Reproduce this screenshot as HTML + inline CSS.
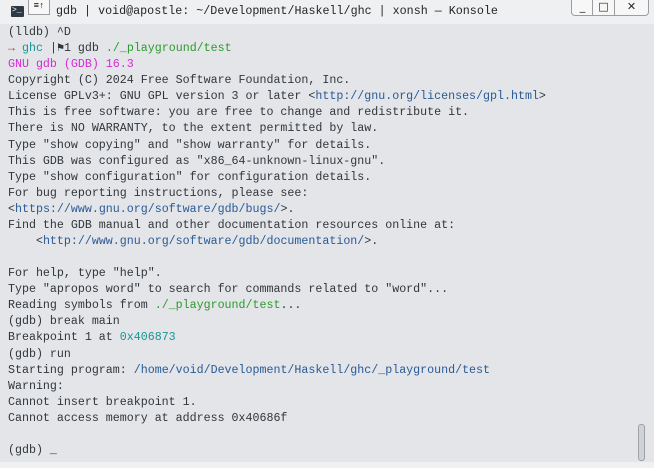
<!DOCTYPE html>
<html><head><meta charset="utf-8"><style>
body{margin:0;width:654px;height:468px;overflow:hidden;background:#eff0f1;position:relative;font-family:"Liberation Mono",monospace}
#title{position:absolute;left:0;top:0;width:654px;height:24px;background:#eff0f1}
#term{position:absolute;left:0;top:24px;width:654px;height:438px;background:#e3e5e8}
pre{position:absolute;left:8px;top:25px;margin:0;font-size:11.65px;line-height:16.08px;color:#31363b;font-family:"Liberation Mono",monospace}
.m{color:#d62ad6}.t{color:#1a9494}.g{color:#2e9a2e}.b{color:#2a5a96}.r{color:#e02020}
.ttl{position:absolute;left:56px;top:4px;font-size:11.7px;color:#232629;white-space:pre}
.btn{position:absolute;top:0;height:15px;border:1px solid #9a9ea3;border-top:none;background:#f7f7f7;font-size:11px;text-align:center;line-height:14px;color:#232629;font-family:"DejaVu Sans",sans-serif}
</style></head><body>
<div id="title">
<div style="position:absolute;left:11px;top:6px;width:13px;height:11px;background:#2d3a46;border-radius:1px"></div>
<div style="position:absolute;left:12px;top:6px;color:#fff;font-size:8px;line-height:10px">&gt;_</div>
<div style="position:absolute;left:28px;top:0;width:20px;height:14px;border:1px solid #9a9ea3;border-top:none;background:#f7f7f7;font-size:9px;text-align:center;line-height:12px">≡↑</div>
<div class="ttl">gdb | void@apostle: ~/Development/Haskell/ghc | xonsh — Konsole</div>
<div class="btn" style="left:571px;width:21px;border-radius:0 0 0 4px">_</div>
<div class="btn" style="left:592px;width:21px">□</div>
<div class="btn" style="left:614px;width:33px;border-radius:0 0 4px 0">✕</div>
</div>
<div id="term"></div>
<div style="position:absolute;left:638px;top:424px;width:5px;height:35px;border:1px solid #9ea2a7;border-radius:3px;background:#cfd2d6"></div>
<pre>(lldb) ^D
<span class="r">→</span> <span class="t">ghc</span> |⚑1 gdb <span class="g">./_playground/test</span>
<span class="m">GNU gdb (GDB) 16.3</span>
Copyright (C) 2024 Free Software Foundation, Inc.
License GPLv3+: GNU GPL version 3 or later &lt;<span class="b">http://gnu.org/licenses/gpl.html</span>&gt;
This is free software: you are free to change and redistribute it.
There is NO WARRANTY, to the extent permitted by law.
Type "show copying" and "show warranty" for details.
This GDB was configured as "x86_64-unknown-linux-gnu".
Type "show configuration" for configuration details.
For bug reporting instructions, please see:
&lt;<span class="b">https://www.gnu.org/software/gdb/bugs/</span>&gt;.
Find the GDB manual and other documentation resources online at:
    &lt;<span class="b">http://www.gnu.org/software/gdb/documentation/</span>&gt;.

For help, type "help".
Type "apropos word" to search for commands related to "word"...
Reading symbols from <span class="g">./_playground/test</span>...
(gdb) break main
Breakpoint 1 at <span class="t">0x406873</span>
(gdb) run
Starting program: <span class="b">/home/void/Development/Haskell/ghc/_playground/test</span>
Warning:
Cannot insert breakpoint 1.
Cannot access memory at address 0x40686f

(gdb) _</pre>
</body></html>
